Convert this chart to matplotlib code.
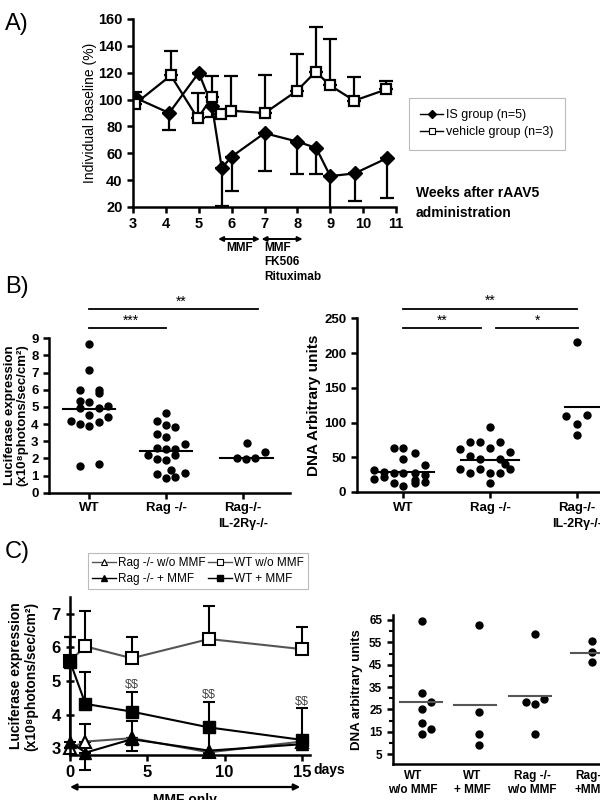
import matplotlib
matplotlib.use('Agg')
import matplotlib.pyplot as plt
import matplotlib.transforms as mtransforms
from matplotlib.lines import Line2D

plt.rcParams['font.family'] = ['Liberation Sans', 'DejaVu Sans']

# ---------------- Panel A data ----------------
is_weeks = [3.1, 4.1, 5.0, 5.4, 5.7, 6.0, 7.0, 8.0, 8.57, 9.0, 9.74, 10.72]
is_mean = [101, 90, 120, 95.5, 49, 57.5, 75, 68.7, 64, 43, 45, 56.3]
is_err_lo = [0, 13, 0, 8.5, 28, 25.5, 28, 24.3, 19.6, 30, 20.5, 29.8]
veh_weeks = [3.05, 4.15, 4.97, 5.4, 5.67, 5.98, 7.01, 7.99, 8.56, 8.99, 9.73, 10.71]
veh_mean = [96.5, 118, 86, 101.7, 89, 91.7, 90, 106.6, 120.8, 110.6, 99.2, 107.6]
veh_err_hi = [9.5, 18, 19, 16, 0, 26, 28.3, 27, 33, 34.3, 17.8, 6.2]
a_xticks = [3, 4, 5, 6, 7, 8, 9, 10, 11]
a_yticks = [20, 40, 60, 80, 100, 120, 140, 160]

# ---------------- Panel B data ----------------
b_groups = ['WT', 'Rag -/-', 'Rag-/-']
b_group2 = 'IL-2Rγ-/-'
luc_wt = [8.66, 7.14, 5.99, 5.99, 5.8, 5.35, 5.31, 4.96, 4.92, 5.06, 4.53, 4.44, 4.2, 4.01, 3.91, 4.1, 1.58, 1.67]
luc_wt_off = [0, 0, -0.12, 0.13, 0.13, -0.12, 0, -0.12, 0.13, 0.24, 0, 0.24, -0.24, -0.12, 0, 0.13, -0.12, 0.13]
luc_rag = [4.66, 4.2, 3.95, 3.81, 3.4, 3.25, 2.82, 2.59, 2.53, 2.55, 2.2, 1.95, 1.91, 2.18, 1.32, 1.09, 1.13, 0.86, 0.9]
luc_rag_off = [0, -0.115, 0, 0.12, -0.115, 0, 0.24, -0.115, 0, 0.12, -0.24, -0.115, 0, 0.12, 0.06, -0.115, 0.24, 0, 0.12]
luc_il2 = [2.91, 2.04, 1.96, 2.0, 2.35]
luc_il2_off = [0.05, -0.08, 0.04, 0.16, 0.28]
luc_medians = [4.86, 2.45, 2.05]
luc_med_off = [0, 0, 0.045]

dna_wt = [63.8, 63.8, 55.7, 47.5, 38.8, 31.7, 28.5, 27.8, 26.9, 27.8, 18.3, 17.5, 13.4, 13.4, 14.8, 8.6, 22.0, 25.0]
dna_wt_off = [-0.11, 0, 0.13, 0, 0.25, -0.34, -0.22, -0.11, 0, 0.13, -0.34, 0.13, -0.11, 0.13, 0.25, 0, -0.22, 0.25]
dna_rag = [93, 72.4, 72.4, 72.4, 61.4, 63.8, 57, 52, 48, 48, 32.6, 27.8, 32.6, 27.8, 27.8, 32.6, 13.4, 40]
dna_rag_off = [0, -0.23, 0.115, -0.115, -0.35, 0, 0.23, -0.23, -0.115, 0.115, -0.35, -0.23, -0.115, 0, 0.115, 0.23, 0, 0.17]
dna_il2 = [215.4, 109.4, 110.8, 97.8, 82]
dna_il2_off = [0, -0.12, 0.12, 0, 0]
dna_medians = [29.2, 46, 122.7]
dna_med_off = [0.02, 0.0, 0.2]

# ---------------- Panel C data ----------------
c_days = [0, 1, 4, 9, 15]
rag_wo = [3.0, 3.2, 3.3, 2.88, 3.2]
rag_wo_hi = [0, 0.52, 0, 0, 0]
rag_mmf = [3.2, 2.87, 3.27, 2.93, 3.12]
rag_mmf_hi = [3.1, 0, 0.53, 0, 0]
rag_mmf_lo = [0, 0.52, 0.34, 0, 0]
wt_wo = [5.6, 6.03, 5.68, 6.25, 5.95]
wt_wo_hi = [0.7, 1.04, 0.62, 0.99, 0.67]
wt_mmf = [5.58, 4.32, 4.09, 3.62, 3.25]
wt_mmf_hi = [0.72, 0.94, 0.57, 0.76, 0.94]
wt_mmf_lo = [0, 0, 0, 0.76, 0]
sig_days = [4, 9, 15]
sig_y = [4.87, 4.59, 4.37]

c2_groups = ['WT\nw/o MMF', 'WT\n+ MMF', 'Rag -/-\nw/o MMF', 'Rag-/-\n+MMF']
c2_wt_wo = [64.7, 32.2, 28.5, 25.2, 19.1, 16.2, 14.1]
c2_wt_wo_x = [0.16, 0.16, 0.3, 0.16, 0.16, 0.3, 0.16]
c2_wt_mmf = [62.8, 24.0, 13.9, 9.1]
c2_wt_mmf_x = [1.11, 1.11, 1.11, 1.11]
c2_rag_wo = [58.6, 28.5, 27.5, 29.7, 13.9]
c2_rag_wo_x = [2.05, 1.9, 2.05, 2.2, 2.05]
c2_rag_mmf = [55.6, 50.8, 46.1]
c2_rag_mmf_x = [3.0, 3.0, 3.0]
c2_medians = [28.3, 27.0, 31.2, 50.2]
c2_med_x = [0.13, 1.04, 1.97, 3.0]

# ---------------- layout helpers ----------------
W, H = 600, 800
fig = plt.figure(figsize=(6, 8), dpi=100)


def rect(x0, y0, x1, y1):
    return [x0 / W, 1 - y1 / H, (x1 - x0) / W, (y1 - y0) / H]


def fx(px):
    return px / W


def fy(py):
    return 1 - py / H


def style(ax, lw=1.8, fs=10):
    for s in ['top', 'right']:
        ax.spines[s].set_visible(False)
    for s in ['left', 'bottom']:
        ax.spines[s].set_linewidth(lw)
    ax.tick_params(direction='out', width=lw, length=4, labelsize=fs)
    for lab in ax.get_xticklabels() + ax.get_yticklabels():
        lab.set_fontweight('bold')


# panel letters
fig.text(fx(5), fy(24), 'A)', fontsize=17, va='center', ha='left')
fig.text(fx(5), fy(287), 'B)', fontsize=17, va='center', ha='left')
fig.text(fx(5), fy(552), 'C)', fontsize=17, va='center', ha='left')

# ================= Panel A =================
axA = fig.add_axes(rect(133, 19, 396, 207))
axA.errorbar(is_weeks, is_mean, yerr=[is_err_lo, [0] * len(is_mean)], fmt='-D', color='k',
             ms=7, lw=1.6, elinewidth=1.6, capsize=5, capthick=1.6)
axA.errorbar(veh_weeks, veh_mean, yerr=[[0] * len(veh_mean), veh_err_hi], fmt='-s', color='k',
             mfc='white', mec='k', mew=1.6, ms=7, lw=1.6, elinewidth=1.6, capsize=5, capthick=1.6)
axA.set_xlim(3, 11)
axA.set_ylim(20, 160)
axA.set_xticks(a_xticks)
axA.set_yticks(a_yticks)
style(axA, fs=10.5)
axA.set_ylabel('Individual baseline (%)', fontsize=10, labelpad=1)
hA = [Line2D([], [], color='k', lw=1.0, marker='D', ms=4, label='IS group (n=5)'),
      Line2D([], [], color='k', lw=1.0, marker='s', ms=4, mfc='white', mew=0.8,
             label='vehicle group (n=3)')]
legA = axA.legend(handles=hA, loc='upper left', bbox_to_anchor=(fx(409), fy(98)),
                  bbox_transform=fig.transFigure, borderaxespad=0, fancybox=False, fontsize=9,
                  handlelength=1.8, handletextpad=0.3, borderpad=0.9, labelspacing=0.4)
legA.get_frame().set_edgecolor('#aaaaaa')
legA.get_frame().set_linewidth(0.8)
fig.text(fx(416), fy(203), 'Weeks after rAAV5\nadministration', fontsize=10, fontweight='bold',
         ha='left', va='center', linespacing=1.5)
trA = mtransforms.blended_transform_factory(axA.transData, fig.transFigure)
axA.annotate('', xy=(5.59, fy(239)), xytext=(6.86, fy(239)), xycoords=trA, textcoords=trA,
             arrowprops=dict(arrowstyle='<|-|>', lw=1.4, color='k', mutation_scale=7,
                             shrinkA=0, shrinkB=0), annotation_clip=False)
axA.annotate('', xy=(6.91, fy(239)), xytext=(8.16, fy(239)), xycoords=trA, textcoords=trA,
             arrowprops=dict(arrowstyle='<|-|>', lw=1.4, color='k', mutation_scale=7,
                             shrinkA=0, shrinkB=0), annotation_clip=False)
axA.text(6.25, fy(248), 'MMF', transform=trA, fontsize=8.5, fontweight='bold', ha='center', va='center')
axA.text(6.98, fy(242), 'MMF\nFK506\nRituximab', transform=trA, fontsize=8.5, fontweight='bold',
         ha='left', va='top', linespacing=1.25)

# ================= Panel B left =================
axBL = fig.add_axes(rect(49, 338.3, 290, 492.7))
for i, (vals, offs) in enumerate([(luc_wt, luc_wt_off), (luc_rag, luc_rag_off), (luc_il2, luc_il2_off)]):
    axBL.plot([i + o for o in offs], vals, 'o', color='k', ms=5, clip_on=False)
for i, (m, o) in enumerate(zip(luc_medians, luc_med_off)):
    axBL.plot([i + o - 0.34, i + o + 0.34], [m, m], '-', color='k', lw=1.5)
axBL.set_xlim(-0.52, 2.61)
axBL.set_ylim(0, 9)
axBL.set_yticks(range(0, 10))
axBL.set_xticks([0, 1, 2])
axBL.set_xticklabels(b_groups)
style(axBL, fs=9.5)
axBL.tick_params(axis='x', pad=3)
axBL.set_ylabel('Luciferase expression\n(x10⁸photons/sec/cm²)', fontsize=9.5, fontweight='bold',
                labelpad=2, linespacing=1.0)
trBL = mtransforms.blended_transform_factory(axBL.transData, fig.transFigure)
axBL.text(2, fy(524), b_group2, transform=trBL, fontsize=9, fontweight='bold', ha='center', va='center')
axBL.plot([0, 1], [9.58, 9.58], 'k-', lw=1.3, clip_on=False)
axBL.text(0.55, 9.62, '***', fontsize=10, ha='center', va='bottom')
axBL.plot([0, 2.2], [10.7, 10.7], 'k-', lw=1.3, clip_on=False)
axBL.text(1.2, 10.74, '**', fontsize=10, ha='center', va='bottom')

# ================= Panel B right =================
axBR = fig.add_axes(rect(356.7, 318.3, 600, 492))
for i, (vals, offs) in enumerate([(dna_wt, dna_wt_off), (dna_rag, dna_rag_off), (dna_il2, dna_il2_off)]):
    axBR.plot([i + o for o in offs], vals, 'o', color='k', ms=5, clip_on=False)
for i, (m, o) in enumerate(zip(dna_medians, dna_med_off)):
    axBR.plot([i + o - 0.33, i + o + 0.33], [m, m], '-', color='k', lw=1.5, clip_on=False)
axBR.set_xlim(-0.54, 2.27)
axBR.set_ylim(0, 250)
axBR.set_yticks([0, 50, 100, 150, 200, 250])
axBR.set_xticks([0, 1, 2])
axBR.set_xticklabels(b_groups)
style(axBR, fs=9.5)
axBR.tick_params(axis='x', pad=3)
axBR.set_ylabel('DNA Arbitrary units', fontsize=11, fontweight='bold', labelpad=2)
trBR = mtransforms.blended_transform_factory(axBR.transData, fig.transFigure)
axBR.text(2, fy(524), b_group2, transform=trBR, fontsize=9, fontweight='bold', ha='center', va='center')
axBR.plot([0, 0.9], [235.5, 235.5], 'k-', lw=1.3, clip_on=False)
axBR.text(0.45, 237, '**', fontsize=10, ha='center', va='bottom')
axBR.plot([1.07, 2.02], [235.5, 235.5], 'k-', lw=1.3, clip_on=False)
axBR.text(1.55, 237, '*', fontsize=10, ha='center', va='bottom')
axBR.plot([0, 2.0], [263, 263], 'k-', lw=1.3, clip_on=False)
axBR.text(1.0, 265, '**', fontsize=10, ha='center', va='bottom')

# ================= Panel C left =================
axCL = fig.add_axes(rect(70, 597, 309.5, 755))
gray = '#555555'
ekw = dict(lw=1.5, elinewidth=1.5, capsize=4, capthick=1.5, clip_on=False)
axCL.errorbar(c_days, rag_wo, yerr=[[0] * 5, rag_wo_hi], fmt='-^', color=gray, mfc='white',
              mec='k', mew=1.5, ms=8, ecolor='k', **ekw)
axCL.errorbar(c_days, rag_mmf, yerr=[rag_mmf_lo, rag_mmf_hi], fmt='-^', color='k', ms=8, **ekw)
axCL.errorbar(c_days, wt_wo, yerr=[[0] * 5, wt_wo_hi], fmt='-s', color=gray, mfc='white',
              mec='k', mew=1.5, ms=9, ecolor='k', **ekw)
axCL.errorbar(c_days, wt_mmf, yerr=[wt_mmf_lo, wt_mmf_hi], fmt='-s', color='k', ms=9, **ekw)
axCL.set_xlim(0, 15.5)
axCL.set_ylim(2.8, 7.5)
axCL.set_xticks([0, 5, 10, 15])
axCL.set_yticks([3, 4, 5, 6, 7])
style(axCL, fs=12)
axCL.tick_params(axis='y', direction='inout', length=6)
axCL.set_ylabel('Luciferase expression\n(x10⁸photons/sec/cm²)', fontsize=10, fontweight='bold',
                labelpad=10, linespacing=1.05)
for d, yv in zip(sig_days, sig_y):
    axCL.text(d, yv, r'\$\$', fontsize=9, color='#444444', ha='center', va='center')
hC = [Line2D([], [], color=gray, lw=1.0, marker='^', ms=5, mfc='white', mec='k', mew=0.8,
             label='Rag -/- w/o MMF'),
      Line2D([], [], color='k', lw=1.0, marker='^', ms=5, label='Rag -/- + MMF'),
      Line2D([], [], color=gray, lw=1.0, marker='s', ms=5, mfc='white', mec='k', mew=0.8,
             label='WT w/o MMF'),
      Line2D([], [], color='k', lw=1.0, marker='s', ms=5, label='WT + MMF')]
legC = fig.legend(handles=hC, loc='upper left', bbox_to_anchor=(fx(88), fy(553)),
                  ncol=2, fontsize=8.5, fancybox=False, borderaxespad=0, handlelength=2.0,
                  handletextpad=0.2, columnspacing=0.2, borderpad=0.35, labelspacing=0.35)
legC.get_frame().set_edgecolor('#aaaaaa')
legC.get_frame().set_linewidth(0.8)
fig.text(fx(313), fy(770), 'days', fontsize=10, fontweight='bold', ha='left', va='center')
trCL = mtransforms.blended_transform_factory(axCL.transData, fig.transFigure)
axCL.annotate('', xy=(0, fy(787)), xytext=(14.9, fy(787)), xycoords=trCL, textcoords=trCL,
              arrowprops=dict(arrowstyle='<|-|>', lw=1.6, color='k', mutation_scale=9,
                              shrinkA=0, shrinkB=0), annotation_clip=False)
fig.text(fx(153), fy(793), 'MMF only', fontsize=10, fontweight='bold', ha='left', va='top')

# ================= Panel C right =================
axCR = fig.add_axes(rect(392.7, 615, 600, 764.3))
for vals, xs in [(c2_wt_wo, c2_wt_wo_x), (c2_wt_mmf, c2_wt_mmf_x), (c2_rag_wo, c2_rag_wo_x),
                 (c2_rag_mmf, c2_rag_mmf_x)]:
    axCR.plot(xs, vals, 'o', color='k', ms=5, clip_on=False)
for m, xc in zip(c2_medians, c2_med_x):
    axCR.plot([xc - 0.35, xc + 0.35], [m, m], '-', color=gray, lw=1.5, clip_on=False)
axCR.set_xlim(-0.34, 3.14)
axCR.set_ylim(0.5, 67.2)
axCR.set_yticks([5, 15, 25, 35, 45, 55, 65])
axCR.set_yticks([10, 20, 30, 40, 50, 60], minor=True)
axCR.set_xticks([0, 1, 2, 3])
axCR.set_xticklabels(c2_groups)
style(axCR, fs=8.5)
axCR.tick_params(axis='y', which='minor', direction='out', width=1.5, length=3)
axCR.tick_params(axis='x', length=0, pad=4)
axCR.set_ylabel('DNA arbitrary units', fontsize=9.5, fontweight='bold', labelpad=4)

fig.savefig('out.png', dpi=100)
